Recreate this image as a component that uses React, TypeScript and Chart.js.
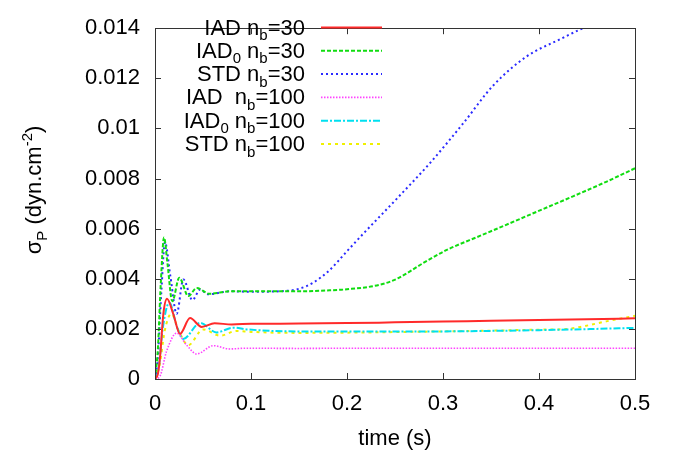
import { useEffect, useRef } from "react";
import { Chart, registerables } from "chart.js";

Chart.register(...registerables);

// ---- data ----
const iad30T = [0, 0.003, 0.0052, 0.0087, 0.0125, 0.019, 0.026, 0.0365, 0.0486, 0.062, 0.08, 0.1, 0.15, 0.2, 0.25, 0.3, 0.35, 0.4, 0.45, 0.5];
const iad30V = [0, 0.0002, 0.00085, 0.0026, 0.0032, 0.0026, 0.0018, 0.00243, 0.00208, 0.00222, 0.00218, 0.0022, 0.00221, 0.00223, 0.00226, 0.00229, 0.00232, 0.00235, 0.00238, 0.00242];

const iad0_30T = [0, 0.003, 0.006, 0.0094, 0.013, 0.018, 0.0253, 0.0347, 0.0434, 0.057, 0.078, 0.1, 0.15, 0.182, 0.2, 0.234, 0.252, 0.28, 0.304, 0.339, 0.37, 0.401, 0.436, 0.47, 0.5];
const iad0_30V = [0, 0.0012, 0.0038, 0.00565, 0.0046, 0.0031, 0.00404, 0.00331, 0.00363, 0.0034, 0.0035, 0.0035, 0.0035, 0.00354, 0.00358, 0.00376, 0.004, 0.00464, 0.00515, 0.00572, 0.00622, 0.00673, 0.0073, 0.00787, 0.00841];

const std30T = [0, 0.003, 0.0065, 0.0104, 0.016, 0.0226, 0.0295, 0.039, 0.047, 0.0556, 0.078, 0.1, 0.13, 0.15, 0.165, 0.182, 0.2, 0.217, 0.252, 0.286, 0.321, 0.352, 0.387, 0.422, 0.446, 0.46];
const std30V = [0, 0.0009, 0.0034, 0.00546, 0.0041, 0.0026, 0.00397, 0.00315, 0.00357, 0.00338, 0.0035, 0.00348, 0.0035, 0.0036, 0.00385, 0.00435, 0.0051, 0.0058, 0.0072, 0.0086, 0.0102, 0.0117, 0.01287, 0.01356, 0.014, 0.0142];

const iad100T = [0, 0.005, 0.012, 0.0226, 0.033, 0.0434, 0.0608, 0.078, 0.0955, 0.15, 0.2, 0.3, 0.4, 0.5];
const iad100V = [0, 0.0001, 0.0011, 0.00183, 0.00135, 0.001, 0.00133, 0.0012, 0.00123, 0.00122, 0.00123, 0.00123, 0.00123, 0.00123];

const iad0_100T = [0, 0.004, 0.008, 0.015, 0.0226, 0.0295, 0.047, 0.064, 0.0816, 0.0955, 0.15, 0.2, 0.3, 0.35, 0.4, 0.45, 0.5];
const iad0_100V = [0, 0.0005, 0.002, 0.00305, 0.00211, 0.0016, 0.00224, 0.00186, 0.00205, 0.00198, 0.0019, 0.0019, 0.0019, 0.00192, 0.00195, 0.00199, 0.00204];

const std100T = [0, 0.005, 0.01, 0.017, 0.025, 0.0347, 0.05, 0.068, 0.085, 0.1, 0.15, 0.2, 0.3, 0.35, 0.4, 0.43, 0.446, 0.47, 0.5];
const std100V = [0, 0.0006, 0.0019, 0.0026, 0.0019, 0.00135, 0.00198, 0.00173, 0.00192, 0.00188, 0.00184, 0.00185, 0.0019, 0.00193, 0.00197, 0.002, 0.0021, 0.0023, 0.00252];

const xTicks = [0, 0.1, 0.2, 0.3, 0.4, 0.5];
const xLabels = ["0", "0.1", "0.2", "0.3", "0.4", "0.5"];
const yTicks = [0, 0.002, 0.004, 0.006, 0.008, 0.01, 0.012, 0.014];
const yLabels = ["0", "0.002", "0.004", "0.006", "0.008", "0.01", "0.012", "0.014"];

type Part = { t: string; k?: "sub" | "sup" };
const legendLabels: Part[][] = [
  [{ t: "IAD n" }, { t: "b", k: "sub" }, { t: "=30" }],
  [{ t: "IAD" }, { t: "0", k: "sub" }, { t: " n" }, { t: "b", k: "sub" }, { t: "=30" }],
  [{ t: "STD n" }, { t: "b", k: "sub" }, { t: "=30" }],
  [{ t: "IAD  n" }, { t: "b", k: "sub" }, { t: "=100" }],
  [{ t: "IAD" }, { t: "0", k: "sub" }, { t: " n" }, { t: "b", k: "sub" }, { t: "=100" }],
  [{ t: "STD n" }, { t: "b", k: "sub" }, { t: "=100" }],
];
const yTitle: Part[] = [{ t: "σ" }, { t: "P", k: "sub" }, { t: " (dyn.cm" }, { t: "-2", k: "sup" }, { t: ")" }];
const xTitle = "time (s)";

const seriesT = [iad30T, iad0_30T, std30T, iad100T, iad0_100T, std100T];
const seriesV = [iad30V, iad0_30V, std30V, iad100V, iad0_100V, std100V];
const colors = ["#ff2a2a", "#10dd10", "#2a2aff", "#ff44ff", "#00e0f0", "#f0f000"];
const dashes = [[], [4, 2], [2, 3], [1.5, 1.5], [7, 2, 2, 2], [3, 4]];
const widths = [2, 2, 2, 1.6, 2, 2];

const FONT = "Liberation Sans, Arial, Helvetica, sans-serif";
const FS = 22;

function partsWidth(ctx: CanvasRenderingContext2D, parts: Part[]) {
  let w = 0;
  for (const p of parts) {
    ctx.font = `${p.k ? Math.round(FS * 0.7) : FS}px ${FONT}`;
    w += ctx.measureText(p.t).width;
  }
  return w;
}
function drawParts(ctx: CanvasRenderingContext2D, parts: Part[], x: number, y: number) {
  let cx = x;
  for (const p of parts) {
    ctx.font = `${p.k ? Math.round(FS * 0.7) : FS}px ${FONT}`;
    const dy = p.k === "sub" ? FS * 0.25 : p.k === "sup" ? -FS * 0.42 : 0;
    ctx.fillText(p.t, cx, y + dy);
    cx += ctx.measureText(p.t).width;
  }
}

const decor = {
  id: "decor",
  afterDatasetsDraw(chart: any) {
    const { ctx, chartArea: a, scales } = chart;
    ctx.save();
    ctx.strokeStyle = "#333";
    ctx.lineWidth = 1;
    ctx.setLineDash([]);
    ctx.strokeRect(Math.round(a.left) + 0.5, Math.round(a.top) + 0.5, Math.round(a.right - a.left), Math.round(a.bottom - a.top));
    const tl = 6;
    ctx.beginPath();
    for (const v of xTicks) {
      const x = Math.round(scales.x.getPixelForValue(v)) + 0.5;
      ctx.moveTo(x, a.bottom); ctx.lineTo(x, a.bottom - tl);
      ctx.moveTo(x, a.top); ctx.lineTo(x, a.top + tl);
    }
    for (const v of yTicks) {
      const y = Math.round(scales.y.getPixelForValue(v)) + 0.5;
      ctx.moveTo(a.left, y); ctx.lineTo(a.left + tl, y);
      ctx.moveTo(a.right, y); ctx.lineTo(a.right - tl, y);
    }
    ctx.stroke();

    // legend
    ctx.fillStyle = "#000";
    ctx.textBaseline = "alphabetic";
    ctx.textAlign = "left";
    const rowH = 23.3;
    const y0 = 27;
    legendLabels.forEach((parts, i) => {
      const ly = y0 + i * rowH;
      const w = partsWidth(ctx, parts);
      ctx.fillStyle = "#000";
      drawParts(ctx, parts, 305 - w, ly + 7.5);
      ctx.strokeStyle = colors[i];
      ctx.lineWidth = widths[i];
      ctx.setLineDash(dashes[i]);
      ctx.beginPath();
      ctx.moveTo(321, ly + 0.5);
      ctx.lineTo(382, ly + 0.5);
      ctx.stroke();
    });
    ctx.setLineDash([]);

    // y title (rotated)
    ctx.save();
    ctx.translate(41, 190);
    ctx.rotate(-Math.PI / 2);
    const tw = partsWidth(ctx, yTitle);
    ctx.fillStyle = "#000";
    drawParts(ctx, yTitle, -tw / 2, 0);
    ctx.restore();

    // x title
    ctx.font = `${FS}px ${FONT}`;
    ctx.textAlign = "center";
    ctx.fillStyle = "#000";
    ctx.fillText(xTitle, (a.left + a.right) / 2, 445);
    ctx.restore();
  },
};

export default function App() {
  const ref = useRef<HTMLCanvasElement | null>(null);
  useEffect(() => {
    if (!ref.current) return;
    const datasets = seriesT.map((t, i) => ({
      label: "s" + i,
      data: t.map((x, j) => ({ x, y: seriesV[i][j] })),
      borderColor: colors[i],
      backgroundColor: colors[i],
      borderWidth: widths[i],
      borderDash: dashes[i],
      pointRadius: 0,
      fill: false,
      cubicInterpolationMode: "monotone" as const,
    }));
    const chart = new Chart(ref.current, {
      type: "line",
      data: { datasets },
      plugins: [decor],
      options: {
        animation: false,
        responsive: false,
        layout: { padding: { top: 10, right: 44, left: 0, bottom: 0 } },
        plugins: { legend: { display: false }, tooltip: { enabled: false } },
        scales: {
          x: {
            type: "linear",
            min: 0,
            max: 0.5,
            afterFit: (s: any) => { s.height = 78; },
            afterBuildTicks: (s: any) => { s.ticks = xTicks.map((v) => ({ value: v })); },
            grid: { display: false, drawTicks: false },
            border: { display: false },
            ticks: {
              padding: 12,
              color: "#000",
              font: { family: FONT, size: FS },
              maxRotation: 0,
              callback: (v: any) => { const i = xTicks.indexOf(Number(v)); return i >= 0 ? xLabels[i] : ""; },
            },
          },
          y: {
            type: "linear",
            min: 0,
            max: 0.014,
            afterFit: (s: any) => { s.width = 155; },
            afterBuildTicks: (s: any) => { s.ticks = yTicks.map((v) => ({ value: v })); },
            grid: { display: false, drawTicks: false },
            border: { display: false },
            ticks: {
              padding: 15,
              color: "#000",
              font: { family: FONT, size: FS },
              callback: (v: any) => { const i = yTicks.indexOf(Number(v)); return i >= 0 ? yLabels[i] : ""; },
            },
          },
        },
      },
    });
    return () => chart.destroy();
  }, []);
  return (
    <div style={{ position: "absolute", left: 0, top: 0, width: 679, height: 457, background: "#fff" }}>
      <canvas ref={ref} width={679} height={457} style={{ display: "block" }} />
    </div>
  );
}
